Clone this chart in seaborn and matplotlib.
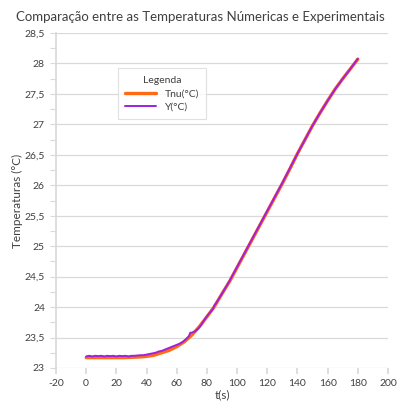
import matplotlib
matplotlib.use("Agg")
import matplotlib.pyplot as plt
import seaborn as sns
import pandas as pd
from matplotlib.ticker import MultipleLocator, FuncFormatter

# ---- data ----
t_num = [0, 5, 10, 15, 20, 25, 30, 35, 40, 45, 50, 55, 60, 65, 70, 75, 80, 85, 90,
         95, 100, 105, 110, 115, 120, 125, 130, 135, 140, 145, 150, 155, 160, 165,
         170, 175, 180]
tnu = [23.17, 23.17, 23.17, 23.17, 23.17, 23.17, 23.175, 23.18, 23.19, 23.21, 23.25,
       23.29, 23.35, 23.43, 23.54, 23.68, 23.84, 24.01, 24.22, 24.42, 24.65, 24.88,
       25.11, 25.34, 25.57, 25.80, 26.03, 26.27, 26.52, 26.75, 26.98, 27.19, 27.39,
       27.58, 27.75, 27.91, 28.07]

t_exp = [0, 2, 4, 6, 8, 10, 12, 14, 16, 18, 20, 22, 24, 26, 28, 30, 32, 34, 36, 38,
         40, 42, 44, 46, 48, 50, 52, 54, 56, 58, 60, 62, 64, 66, 68, 69, 70, 72, 73,
         74, 76, 78, 80, 82, 84, 85, 86, 88, 90, 95, 100, 105, 110, 115, 120, 125,
         130, 135, 140, 145, 150, 155, 160, 165, 170, 175, 180]
y_exp = [23.19, 23.20, 23.19, 23.20, 23.195, 23.20, 23.19, 23.20, 23.195, 23.20,
         23.19, 23.20, 23.195, 23.20, 23.19, 23.20, 23.20, 23.205, 23.21, 23.21,
         23.22, 23.23, 23.24, 23.25, 23.27, 23.28, 23.30, 23.32, 23.34, 23.36,
         23.38, 23.40, 23.43, 23.47, 23.52, 23.58, 23.58, 23.60, 23.62, 23.64,
         23.70, 23.78, 23.85, 23.91, 23.97, 24.03, 24.06, 24.14, 24.22, 24.43,
         24.66, 24.89, 25.12, 25.35, 25.58, 25.81, 26.04, 26.28, 26.52, 26.75,
         26.98, 27.19, 27.39, 27.58, 27.75, 27.91, 28.08]

title = "Comparação entre as Temperaturas Númericas e Experimentais"
xlabel = "t(s)"
ylabel = "Temperaturas (°C)"
legend_title = "Legenda"
series_names = ["Tnu(°C)", "Y(°C)"]

# ---- plot ----
sns.set_theme(style="white")
plt.rcParams['font.family'] = ['Lato', 'DejaVu Sans']

fig = plt.figure(figsize=(4.0, 4.05), dpi=100)
ax = fig.add_axes([0.14, 0.0914, 0.83, 0.827])

df_num = pd.DataFrame({"t": t_num, "v": tnu})
df_exp = pd.DataFrame({"t": t_exp, "v": y_exp})
sns.lineplot(data=df_num, x="t", y="v", ax=ax, color="#FF6A13", linewidth=2.4,
             label=series_names[0])
sns.lineplot(data=df_exp, x="t", y="v", ax=ax, color="#A020DC", linewidth=1.4,
             label=series_names[1])

ax.set_xlim(-20, 200)
ax.set_ylim(23, 28.5)
ax.xaxis.set_major_locator(MultipleLocator(20))
ax.yaxis.set_major_locator(MultipleLocator(0.5))
ax.yaxis.set_minor_locator(MultipleLocator(0.25))
fmt = FuncFormatter(lambda v, p: (f"{v:g}").replace(".", ","))
ax.yaxis.set_major_formatter(fmt)
ax.xaxis.set_major_formatter(FuncFormatter(lambda v, p: f"{v:g}"))

ax.grid(axis="y", color="#D9D9D9", linewidth=0.9)
ax.grid(axis="x", visible=False)
for s in ["top", "right", "bottom"]:
    ax.spines[s].set_visible(False)
ax.spines["left"].set_color("#D9D9D9")
ax.tick_params(axis="both", labelsize=7.5, colors="#404040", length=0, pad=4)
ax.tick_params(axis="y", which="both", left=True, color="#D9D9D9", length=4,
               direction="out", width=0.8)
ax.tick_params(axis="y", which="minor", length=4)
ax.tick_params(axis="x", bottom=True, color="#D9D9D9", length=4, direction="out")

ax.set_xlabel(xlabel, fontsize=8.5, color="#404040", labelpad=1)
ax.set_ylabel(ylabel, fontsize=8.5, color="#404040")
ax.yaxis.set_label_coords(-0.10, 0.5)
fig.text(0.5, 0.957, title, ha="center", va="center", fontsize=9.5, color="#404040")

leg = ax.legend(title=legend_title, loc="upper left", bbox_to_anchor=(0.17, 0.91),
                fontsize=7.5, title_fontsize=7.5, frameon=True, fancybox=False,
                edgecolor="#D9D9D9", handlelength=3.0, borderpad=0.7,
                labelspacing=0.4)
leg.get_frame().set_linewidth(0.8)
for txt in leg.get_texts():
    txt.set_color("#404040")
leg.get_title().set_color("#404040")

fig.savefig("out.png", dpi=100, facecolor="white")
